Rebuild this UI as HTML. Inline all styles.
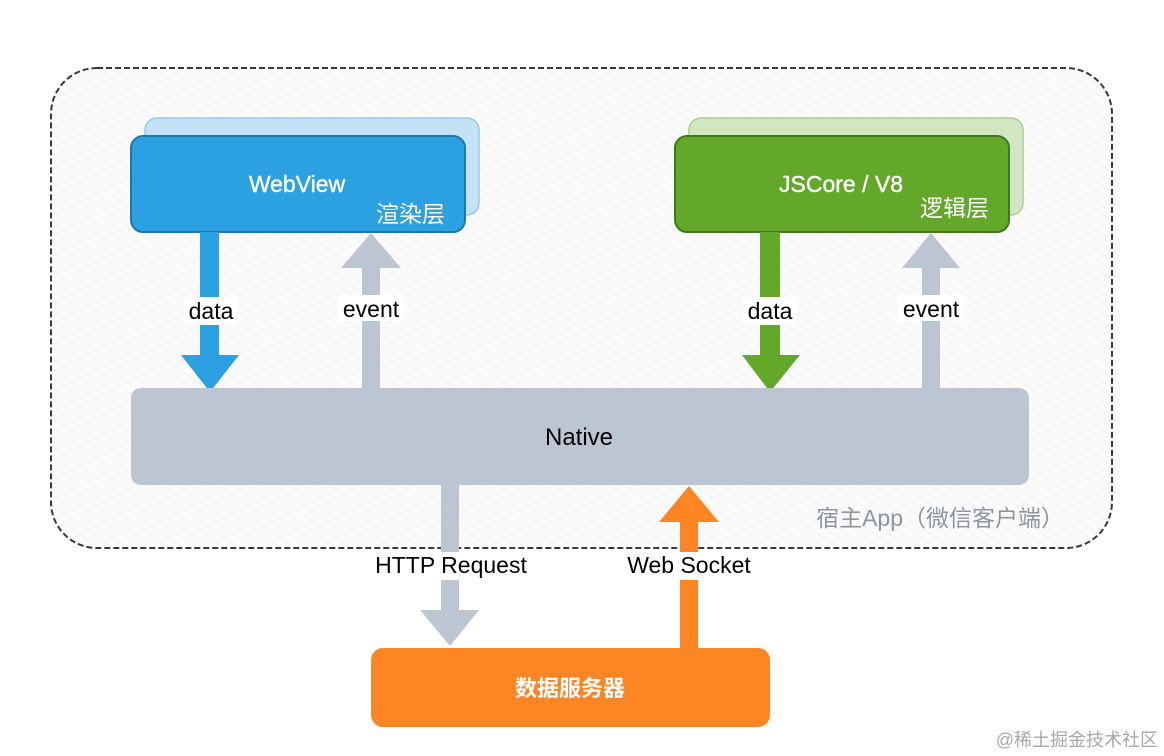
<!DOCTYPE html>
<html><head><meta charset="utf-8"><style>
html,body{margin:0;padding:0;background:#fff;}
svg{display:block;}
text{font-family:"Liberation Sans","Noto Sans CJK SC",sans-serif;}
</style></head><body>
<svg width="1164" height="756" viewBox="0 0 1164 756" xmlns="http://www.w3.org/2000/svg">
<defs>
<pattern id="h" width="8" height="8" patternUnits="userSpaceOnUse" patternTransform="rotate(-55)">
<rect width="8" height="8" fill="#fbfbfb"/>
<line x1="0" y1="0" x2="0" y2="8" stroke="#ececec" stroke-width="1.2"/>
</pattern>
</defs>
<rect x="51" y="68" width="1061" height="480" rx="46" fill="url(#h)" stroke="#3a3a3a" stroke-width="2" stroke-dasharray="6,3"/>

<rect x="145" y="118" width="334" height="97" rx="12" fill="#c3e2f6" stroke="#9cc8e8" stroke-width="1.5"/>
<rect x="131" y="136" width="334" height="96" rx="12" fill="#2ba1e1" stroke="#1f77b0" stroke-width="2"/>
<text x="297" y="192" font-size="23" fill="#fff" stroke="#fff" stroke-width="0.4" text-anchor="middle">WebView</text>
<text x="445" y="222" font-size="23" fill="#fff" text-anchor="end">渲染层</text>

<rect x="689" y="118" width="334" height="97" rx="12" fill="#d2e6c3" stroke="#aacb92" stroke-width="1.5"/>
<rect x="675" y="136" width="334" height="96" rx="12" fill="#63a829" stroke="#3f7a1a" stroke-width="2"/>
<text x="841" y="192" font-size="23" fill="#fff" stroke="#fff" stroke-width="0.4" text-anchor="middle">JSCore / V8</text>
<text x="989" y="216" font-size="23" fill="#fff" text-anchor="end">逻辑层</text>

<polygon points="200,232 219,232 219,355 239,355 210,392 181,355 200,355" fill="#2ba1e1"/>
<polygon points="362,388 380,388 380,268 401,268 371,233 341,268 362,268" fill="#bcc6d2"/>
<polygon points="760,232 780,232 780,355 800,355 770,392 742,355 760,355" fill="#63a829"/>
<polygon points="922,388 940,388 940,268 960,268 931,233 902,268 922,268" fill="#bcc6d2"/>

<rect x="184" y="297" width="54" height="28" fill="#fff"/>
<text x="211" y="319" font-size="23" fill="#000" text-anchor="middle">data</text>
<rect x="338" y="295" width="66" height="26" fill="#fff"/>
<text x="371" y="317" font-size="23" fill="#000" text-anchor="middle">event</text>
<rect x="743" y="297" width="54" height="28" fill="#fff"/>
<text x="770" y="319" font-size="23" fill="#000" text-anchor="middle">data</text>
<rect x="898" y="295" width="66" height="26" fill="#fff"/>
<text x="931" y="317" font-size="23" fill="#000" text-anchor="middle">event</text>

<rect x="131" y="388" width="898" height="97" rx="10" fill="#bcc6d2"/>
<text x="579" y="445" font-size="24" fill="#000" text-anchor="middle">Native</text>

<text x="1064" y="526" font-size="23" fill="#8e96a0" text-anchor="end">宿主App（微信客户端）</text>

<polygon points="441,485 459,485 459,610 479,610 450,646 420,610 441,610" fill="#bcc6d2"/>
<polygon points="680,648 698,648 698,522 719,522 689,486 659,522 680,522" fill="#fd8524"/>
<rect x="368" y="552" width="166" height="28" fill="#fff"/>
<text x="451" y="573" font-size="23" fill="#000" text-anchor="middle">HTTP Request</text>
<rect x="620" y="552" width="138" height="28" fill="#fff"/>
<text x="689" y="573" font-size="23" fill="#000" text-anchor="middle">Web Socket</text>

<rect x="371" y="648" width="399" height="79" rx="12" fill="#fd8524"/>
<text x="570" y="696" font-size="22" fill="#fff" text-anchor="middle" font-weight="bold">数据服务器</text>

<text x="1158" y="746" font-size="18" fill="#a8a8a8" text-anchor="end">@稀土掘金技术社区</text>
</svg>
</body></html>
